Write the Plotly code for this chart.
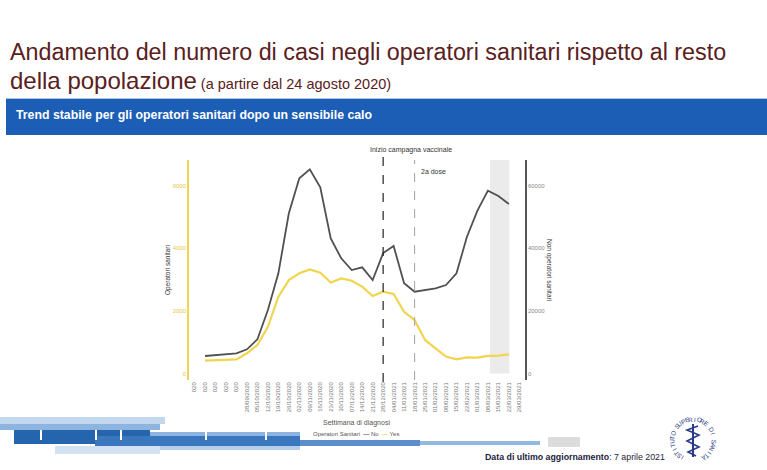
import math
import plotly.graph_objects as go

# ---------------- data ----------------
week_labels = ["020", "020", "020", "020", "020",
               "28/09/2020", "05/10/2020", "12/10/2020", "19/10/2020", "26/10/2020",
               "02/11/2020", "09/11/2020", "16/11/2020", "23/11/2020", "30/11/2020",
               "07/12/2020", "14/12/2020", "21/12/2020", "28/12/2020", "04/01/2021",
               "11/01/2021", "18/01/2021", "25/01/2021", "01/02/2021", "08/02/2021",
               "15/02/2021", "22/02/2021", "01/03/2021", "08/03/2021", "15/03/2021",
               "22/03/2021", "29/03/2021"]
week_pos = list(range(len(week_labels)))

# Operatori sanitari = Yes (left axis)
operatori_si = [None, 410, 430, 450, 450, 645, 910, 1490, 2450, 2980, 3195, 3320,
                3215, 2900, 3035, 2960, 2770, 2470, 2610, 2540, 1970, 1705, 1070,
                800, 540, 450, 515, 505, 560, 570, 610, None]
# Operatori sanitari = No (right axis)
operatori_no = [None, 5580, 5800, 6220, 6440, 7720, 10900, 20250, 31960, 51100,
                62260, 65130, 59390, 43120, 36740, 33010, 33870, 29820, 38400,
                40670, 28770, 26090, 26630, 27170, 28230, 31960, 43640, 51930,
                58310, 56620, 54070, None]

left_ticks = [0, 2000, 4000, 6000]
right_ticks = [0, 20000, 40000, 60000]

vaccine_start = "28/12/2020"
second_dose = "18/01/2021"
incomplete_from = "15/03/2021"
incomplete_to = "22/03/2021"

# ---------------- styling helpers ----------------
W, H = 767, 470
YELLOW = "#f1d54e"
GREY = "#505050"
SANS = "Liberation Sans, Arial"


def px(x):
    return x / W


def py(y):
    return 1 - y / H


fig = go.Figure()
fig.add_trace(go.Scatter(x=week_pos, y=operatori_no, mode="lines", name="No",
                         line=dict(color=GREY, width=1.8), yaxis="y2",
                         connectgaps=False, showlegend=False))
fig.add_trace(go.Scatter(x=week_pos, y=operatori_si, mode="lines", name="Yes",
                         line=dict(color=YELLOW, width=2.2), yaxis="y",
                         connectgaps=False, showlegend=False))

vi = week_labels.index(vaccine_start)
si = week_labels.index(second_dose)
ia = week_labels.index(incomplete_from)
ib = week_labels.index(incomplete_to)

shapes = [
    dict(type="rect", xref="x", yref="y", x0=ia - 0.8, x1=ib + 0.05, y0=0, y1=6810,
         fillcolor="#ebebeb", line=dict(width=0), layer="below"),
    dict(type="line", xref="x", yref="paper", x0=vi, x1=vi, y0=py(382), y1=py(156),
         line=dict(color="#222222", width=1.2, dash="dash")),
    dict(type="line", xref="x", yref="paper", x0=si, x1=si, y0=py(380), y1=py(160),
         line=dict(color="#aaaaaa", width=1.1, dash="dash")),
    # banner
    dict(type="rect", xref="paper", yref="paper", x0=px(6), x1=px(767), y0=py(135), y1=py(99),
         fillcolor="#1c5db5", line=dict(width=0)),
    dict(type="line", xref="paper", yref="paper", x0=px(6), x1=px(767), y0=py(98.5), y1=py(98.5),
         line=dict(color="#a9c6ea", width=1)),
]

# decorative footer bars (slide template)
bars = [
    (0, 165, 417, 424, "#c3d8ef"),
    (0, 160, 424, 430, "#8db4de"),
    (14, 150, 430, 444, "#2565ad"),
    (95, 300, 436, 446, "#3a77bd"),
    (150, 300, 432, 436, "#8fb3df"),
    (300, 420, 440, 446, "#5b8fcb"),
    (420, 540, 441, 445, "#94b8e0"),
    (548, 580, 437, 447, "#dcdcdc"),
    (55, 160, 446, 454, "#d3e2f2"),
    (160, 300, 446, 450, "#b5cdea"),
]
for x0, x1, y0, y1, c in bars:
    shapes.append(dict(type="rect", xref="paper", yref="paper", x0=px(x0), x1=px(x1),
                       y0=py(y1), y1=py(y0), fillcolor=c, line=dict(width=0)))
for xw in [40, 95, 120, 205, 265]:
    shapes.append(dict(type="rect", xref="paper", yref="paper", x0=px(xw), x1=px(xw + 2),
                       y0=py(440), y1=py(430), fillcolor="white", line=dict(width=0)))

# logo staff
cx, cy = 693, 440
shapes.append(dict(type="line", xref="paper", yref="paper", x0=px(cx), x1=px(cx),
                   y0=py(457), y1=py(424), line=dict(color="#2a3c86", width=2)))
snake = "M {} {} ".format(px(cx + 5), py(426))
pts = [(cx - 6, 430), (cx + 6, 435), (cx - 6, 441), (cx + 6, 447), (cx - 5, 452), (cx + 3, 456)]
for x_, y_ in pts:
    snake += "L {} {} ".format(px(x_), py(y_))
shapes.append(dict(type="path", xref="paper", yref="paper", path=snake,
                   line=dict(color="#2a3c86", width=1.6)))


def note(text, x, y, size, color, xref="paper", xanchor="center", angle=0, family=SANS):
    return dict(text=text, x=x, y=y, xref=xref, yref="paper", xanchor=xanchor,
                yanchor="middle", showarrow=False, textangle=angle,
                font=dict(family=family, size=size, color=color))


annotations = [
    note("Andamento del numero di casi negli operatori sanitari rispetto al resto",
         px(8), py(52), 23.3, "#5a2020", xanchor="left"),
    note("della popolazione<span style='font-size:14.5px'> (a partire dal 24 agosto 2020)</span>",
         px(8), py(80), 24, "#5a2020", xanchor="left"),
    note("<b>Trend stabile per gli operatori sanitari dopo un sensibile calo</b>",
         px(14), py(115), 12.3, "white", xanchor="left"),
    note("Inizio campagna vaccinale", vi - 1.44, py(150), 7, "#333333", xref="x", xanchor="left"),
    note("2a dose", si + 0.42, py(171), 7, "#333333", xref="x", xanchor="left"),
    note("Operatori sanitari", px(168), py(270), 6.5, "#333333", angle=-90),
    note("Non operatori sanitari", px(549), py(270), 6.5, "#333333", angle=90),
    note("Settimana di diagnosi", px(356), py(423), 7, "#555555"),
    note("Operatori Sanitari  <span style='color:%s'><b>—</b></span> No  "
         "<span style='color:%s'><b>—</b></span> Yes" % (GREY, YELLOW),
         px(356), py(434), 6, "#555555"),
    note("<b>Data di ultimo aggiornamento</b>: 7 aprile 2021",
         px(483), py(457), 8.8, "#1d1d3d", xanchor="left"),
]

# circular logo text
logo_text = "ISTITUTO SUPERIORE DI SANITÀ"
n = len(logo_text)
r = 21
for k, ch in enumerate(logo_text):
    th = -150 + k * (300 / (n - 1))
    t = math.radians(th)
    annotations.append(note(ch, px(cx + r * math.sin(t)), py(cy - r * math.cos(t)),
                            6.3, "#2a3c86", angle=th))

fig.update_layout(
    width=W, height=H,
    margin=dict(l=0, r=0, t=0, b=0),
    paper_bgcolor="white", plot_bgcolor="white",
    showlegend=False,
    xaxis=dict(domain=[px(189), px(525)], range=[-0.53, 31.54],
               tickmode="array", tickvals=week_pos, ticktext=week_labels,
               tickangle=-90, tickfont=dict(family=SANS, size=6, color="#777777"),
               showgrid=False, zeroline=False, showline=False, ticks=""),
    yaxis=dict(domain=[py(380), py(160)], range=[-207, 6810],
               tickmode="array", tickvals=left_ticks, ticktext=[str(v) for v in left_ticks],
               tickfont=dict(family=SANS, size=6, color="#e3c64a"),
               showgrid=False, zeroline=False, showline=True, linecolor=YELLOW,
               linewidth=1.5, ticks=""),
    yaxis2=dict(overlaying="y", side="right", range=[-2070, 68100],
                tickmode="array", tickvals=right_ticks, ticktext=[str(v) for v in right_ticks],
                tickfont=dict(family=SANS, size=6, color="#888888"),
                showgrid=False, zeroline=False, showline=True, linecolor="#555555",
                linewidth=1.5, ticks=""),
    shapes=shapes,
    annotations=annotations,
)

fig.write_html("out.html")
